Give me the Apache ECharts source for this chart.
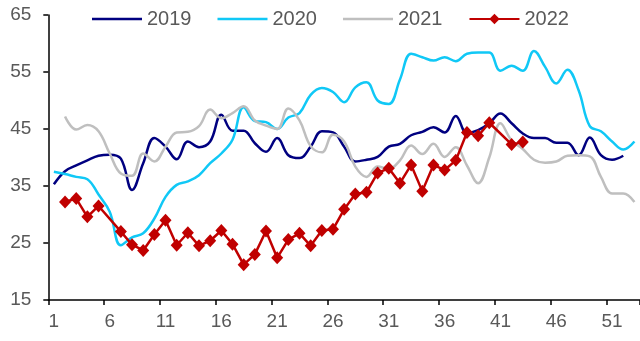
<!DOCTYPE html>
<html>
<head>
<meta charset="utf-8">
<script src="https://cdn.jsdelivr.net/npm/echarts@6/dist/echarts.min.js"></script>
<style>
  html, body { margin: 0; padding: 0; background: #ffffff; }
  #chart { width: 640px; height: 341px; }
</style>
</head>
<body>
<div id="chart"></div>
<script>
// Week numbers 1..53
const weeks = ["1","2","3","4","5","6","7","8","9","10","11","12","13","14","15","16","17","18","19","20",
  "21","22","23","24","25","26","27","28","29","30","31","32","33","34","35","36","37","38","39","40",
  "41","42","43","44","45","46","47","48","49","50","51","52","53"];

const y2019 = [35.3, 37.6, 38.6, 39.5, 40.3, 40.5, 39.8, 34.3, 39.0, 43.4,
  41.9, 39.7, 42.8, 41.8, 42.8, 47.5, 44.7, 44.7, 42.5, 41.0,
  43.4, 40.4, 39.9, 41.9, 44.6, 44.4, 41.9, 39.3, 39.6, 40.1,
  41.9, 42.4, 43.9, 44.5, 45.3, 44.4, 47.3, 44.3, 44.8, 46.0,
  47.7, 46.0, 44.2, 43.4, 43.4, 42.6, 42.6, 40.4, 43.5, 40.4,
  39.6, 40.3];

const y2020 = [37.5, 37.1, 36.6, 36.2, 33.5, 30.5, 24.6, 26.0, 26.7, 29.3,
  33.1, 35.2, 35.8, 36.9, 39.0, 40.7, 43.1, 48.8, 46.4, 46.2,
  45.0, 47.0, 47.8, 51.0, 52.2, 51.5, 49.7, 52.3, 53.2, 50.0,
  49.4, 53.7, 58.2, 57.6, 57.0, 57.6, 56.9, 58.2, 58.4, 58.4,
  55.2, 56.1, 55.2, 58.7, 55.9, 53.0, 55.4, 51.8, 45.5, 44.6,
  42.8, 41.4, 42.8];

const y2021 = [null, 47.2, 44.9, 45.7, 44.6, 40.7, 37.2, 36.8, 40.7, 39.3,
  41.9, 44.4, 44.5, 45.5, 48.4, 46.9, 47.8, 49.0, 46.5, 45.6,
  45.0, 48.6, 46.5, 42.0, 40.9, 44.0, 42.8, 38.4, 36.6, 38.4,
  38.0, 39.5, 42.1, 40.6, 42.4, 40.1, 41.8, 38.6, 35.5, 40.0,
  46.0, 43.0, 41.5, 39.6, 39.1, 39.3, 40.3, 40.4, 40.2, 36.6,
  33.7, 33.7, 32.2];

const y2022 = [null, 32.2, 32.8, 29.6, 31.5, null, 27.0, 24.7, 23.7, 26.5,
  29.0, 24.6, 26.8, 24.5, 25.4, 27.2, 24.8, 21.2, 23.0, 27.1,
  22.4, 25.6, 26.7, 24.5, 27.2, 27.4, 30.9, 33.6, 33.9, 37.3,
  38.1, 35.5, 38.7, 34.1, 38.7, 37.8, 39.5, 44.4, 43.8, 46.1,
  null, 42.3, 42.7];

const yTicks = { min: 15, max: 65, step: 10 };

const textColor = '#595959';
const fontFamily = '"Liberation Sans", Arial, sans-serif';

// Plain line legend icon (50 x 13 box, 2.5px stroke through the middle)
const lineIcon = 'path://M0,0L0.001,0Z M0,5.25L50,5.25L50,7.75L0,7.75Z M0,13L0.001,13Z';

const chart = echarts.init(document.getElementById('chart'), null, { renderer: 'canvas' });

function smoothLine(name, data, color) {
  return {
    name: name,
    type: 'line',
    data: data,
    smooth: 0.4,
    symbol: 'none',
    showSymbol: false,
    lineStyle: { color: color, width: 2.5 },
    itemStyle: { color: color },
    emphasis: { disabled: true }
  };
}

chart.setOption({
  animation: false,
  backgroundColor: '#ffffff',
  grid: { left: 48.3, top: 15, right: -1.4, bottom: 41, containLabel: false },
  legend: {
    left: 87,
    top: 4,
    itemWidth: 50,
    itemHeight: 13,
    itemGap: 26,
    textStyle: { color: textColor, fontSize: 20, fontFamily: fontFamily },
    data: [
      { name: '2019', icon: lineIcon },
      { name: '2020', icon: lineIcon },
      { name: '2021', icon: lineIcon },
      { name: '2022' }
    ]
  },
  xAxis: {
    type: 'category',
    data: weeks,
    boundaryGap: true,
    axisLine: { show: true, lineStyle: { color: '#000000', width: 1.5 } },
    axisTick: { show: true, interval: 4, length: 5, inside: false, lineStyle: { color: '#000000', width: 1.5 } },
    axisLabel: { interval: 4, margin: 12, color: textColor, fontSize: 19, fontFamily: fontFamily },
    splitLine: { show: false }
  },
  yAxis: {
    type: 'value',
    min: yTicks.min,
    max: yTicks.max,
    interval: yTicks.step,
    axisLine: { show: true, lineStyle: { color: '#000000', width: 1.5 } },
    axisTick: { show: true, length: 5, inside: false, lineStyle: { color: '#000000', width: 1.5 } },
    axisLabel: { margin: 17, color: textColor, fontSize: 19, fontFamily: fontFamily },
    splitLine: { show: false }
  },
  series: [
    smoothLine('2019', y2019, '#000080'),
    smoothLine('2020', y2020, '#10C8F6'),
    smoothLine('2021', y2021, '#BFBFBF'),
    {
      name: '2022',
      type: 'line',
      data: y2022,
      connectNulls: true,
      symbol: 'diamond',
      symbolSize: [12, 13],
      showSymbol: true,
      showAllSymbol: true,
      lineStyle: { color: '#C00000', width: 2.5 },
      itemStyle: { color: '#C00000' },
      emphasis: { disabled: true }
    }
  ]
});
</script>
</body>
</html>
